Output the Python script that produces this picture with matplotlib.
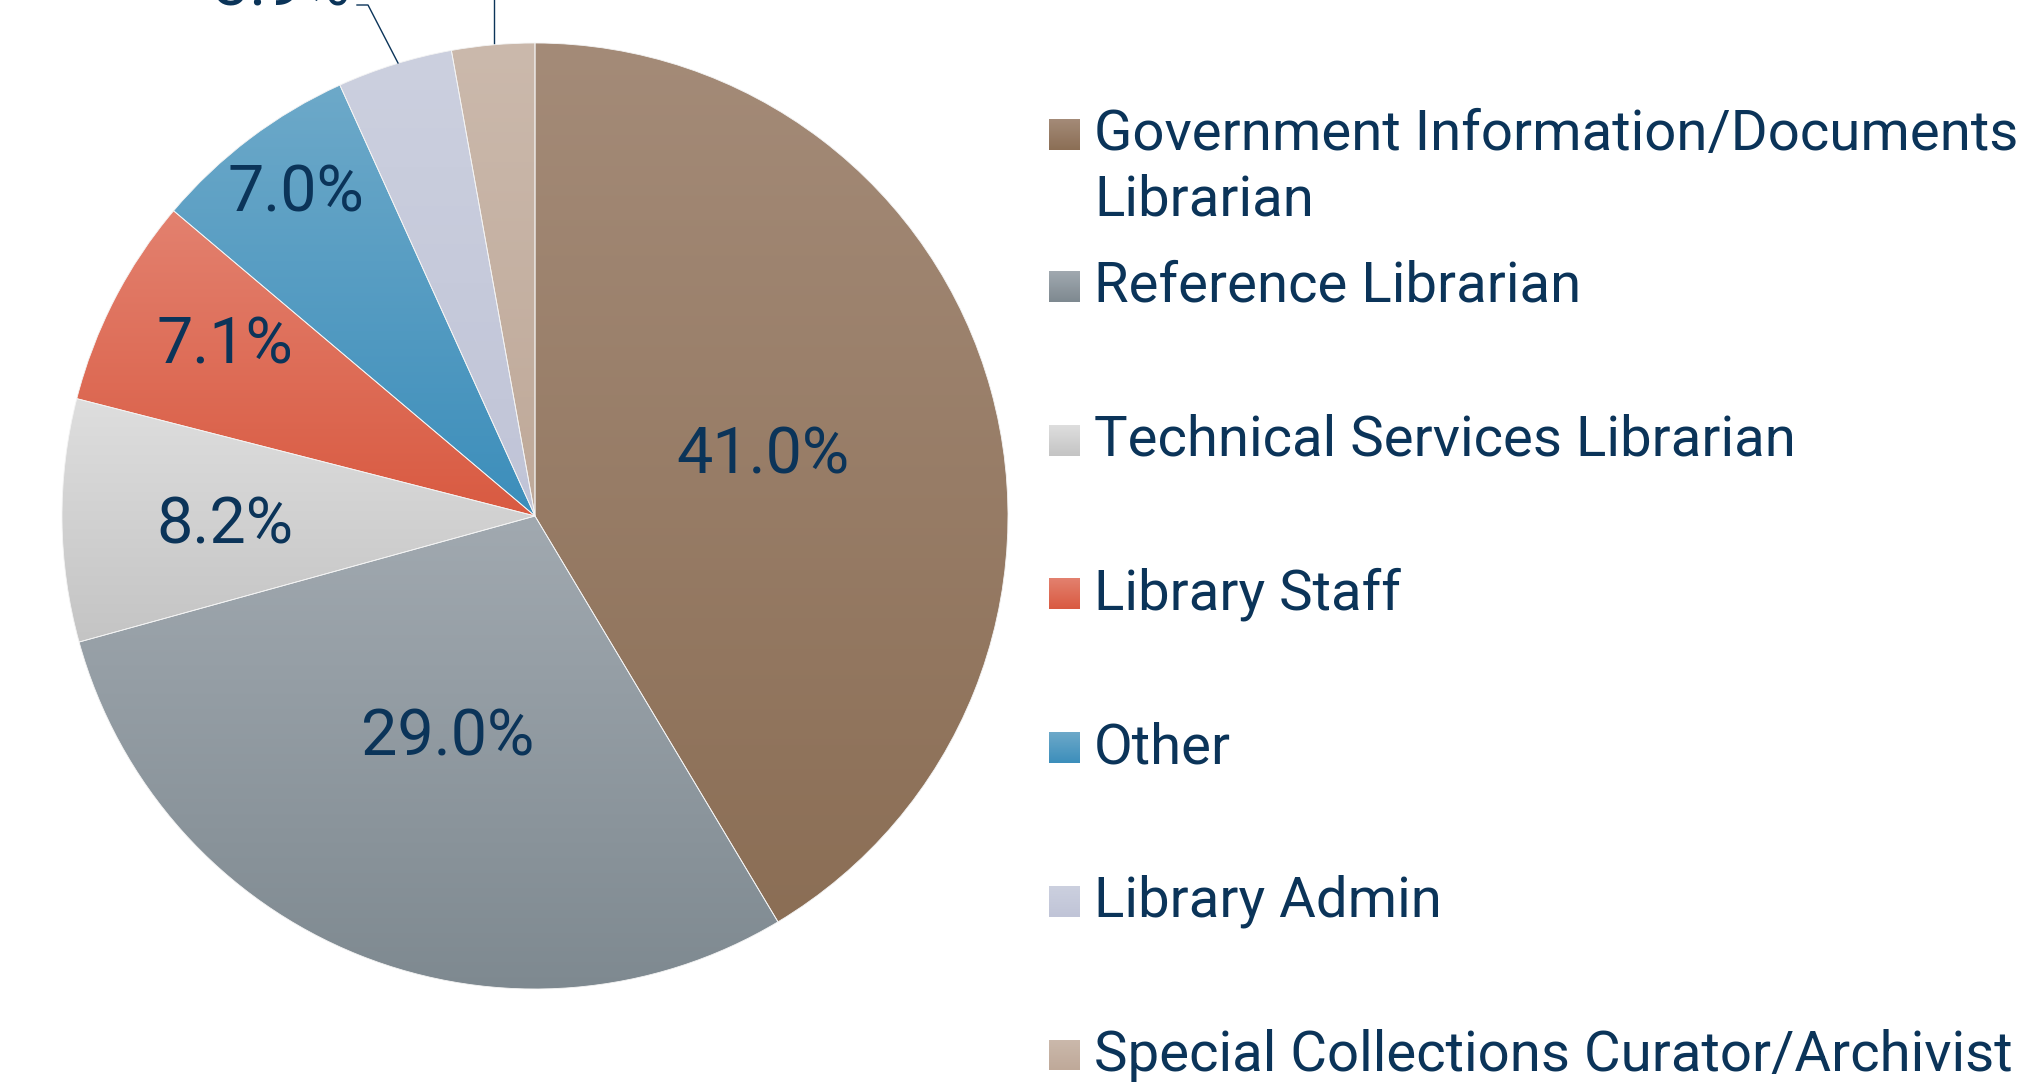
import numpy as np
import matplotlib
matplotlib.use("Agg")
import matplotlib.pyplot as plt
from matplotlib.colors import to_rgb
from matplotlib.patches import Rectangle

categories = ["Government Information/Documents\nLibrarian", "Reference Librarian",
              "Technical Services Librarian", "Library Staff", "Other",
              "Library Admin", "Special Collections Curator/Archivist"]
values = [41.0, 29.0, 8.2, 7.1, 7.0, 3.9, 2.8]
label_texts = ["41.0%", "29.0%", "8.2%", "7.1%", "7.0%", "3.9%", "2.8%"]
top_colors = ["#A48B78", "#A1A9B0", "#DEDEDE", "#E3816F", "#6DA9C9", "#CCD0DF", "#CBB9AC"]
bot_colors = ["#8B6E55", "#7E8990", "#C4C4C4", "#D95A41", "#3C8EBB", "#C0C4D7", "#BFA999"]

W, H = 2017, 1087
TXT = "#0B3459"
LEG_FS = 40.6
LAB_FS = 46.5
plt.rcParams['font.family'] = ['Roboto', 'DejaVu Sans']

fig = plt.figure(figsize=(W / 100, H / 100), dpi=100)
ax = fig.add_axes([0, 0, 1, 1])

def Y(y):
    return H - y

cx, cy, R = 535, Y(516), 473
wedges, _ = ax.pie(values, startangle=90, counterclock=False, center=(cx, cy), radius=R,
                   wedgeprops=dict(facecolor='none', edgecolor='#F4F4F4', linewidth=0.6),
                   frame=True)

def grad(c1, c2, n=256):
    a, b = np.array(to_rgb(c1)), np.array(to_rgb(c2))
    t = np.linspace(0, 1, n)[:, None]
    return (b * (1 - t) + a * t)[:, None, :]  # row 0 = bottom (origin lower)

for w, ct, cb in zip(wedges, top_colors, bot_colors):
    v = w.get_path().vertices
    x0, x1 = v[:, 0].min(), v[:, 0].max()
    y0, y1 = v[:, 1].min(), v[:, 1].max()
    im = ax.imshow(grad(ct, cb), extent=[x0, x1, y0, y1], origin='lower',
                   aspect='auto', zorder=0.5, interpolation='bilinear')
    im.set_clip_path(w)

# in-slice labels (offsets from pie centre, pixels)
label_offsets = [(228, -60), (-87, 221), (-310, 9), (-310, -171), (-239, -323)]
for txt, (dx, dy) in zip(label_texts[:5], label_offsets):
    ax.text(cx + dx, cy - dy, txt, ha='center', va='center', fontsize=LAB_FS,
            color=TXT, zorder=5)

# outside labels with leader lines (partly outside the visible area, as in the original)
ax.text(350, Y(5), label_texts[5], ha='right', va='baseline', fontsize=LAB_FS, color=TXT, zorder=5)
ax.plot([398, 368, 357], [Y(63), Y(5), Y(5)], color=TXT, lw=1.0, zorder=5)
ax.text(494, Y(-60), label_texts[6], ha='center', va='baseline', fontsize=LAB_FS, color=TXT, zorder=5)
ax.plot([494, 494], [Y(43), Y(-50)], color=TXT, lw=1.0, zorder=5)

# legend
LEG_X_SQ, LEG_X_TXT, SQ = 1049, 1094, 31
baselines = [150] + [302 + k * 153.7 for k in range(6)]
for i, (name, ct, cb, yb) in enumerate(zip(categories, top_colors, bot_colors, baselines)):
    sq = Rectangle((LEG_X_SQ, Y(yb)), SQ, SQ, facecolor='none', edgecolor='none', zorder=5)
    ax.add_patch(sq)
    im = ax.imshow(grad(ct, cb), extent=[LEG_X_SQ, LEG_X_SQ + SQ, Y(yb), Y(yb) + SQ],
                   origin='lower', aspect='auto', zorder=5, interpolation='bilinear')
    im.set_clip_path(sq)
    for j, line in enumerate(name.split("\n")):
        ax.text(LEG_X_TXT, Y(yb + j * 66), line, ha='left', va='baseline', fontsize=LEG_FS,
                color=TXT, zorder=5)

ax.set_xlim(0, W)
ax.set_ylim(0, H)
ax.set_aspect('auto')
ax.axis('off')
fig.savefig("out.png", dpi=100, facecolor='white')
